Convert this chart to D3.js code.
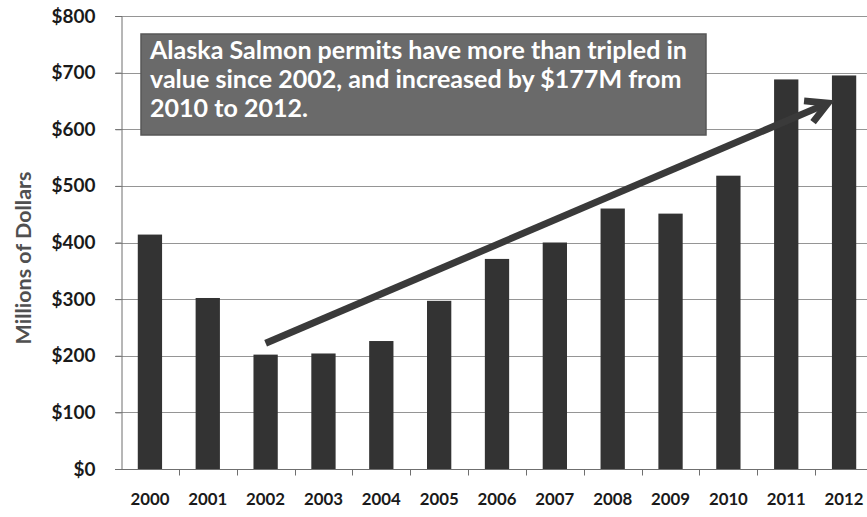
<!DOCTYPE html>
<html>
<head>
<meta charset="utf-8">
<script src="https://cdn.jsdelivr.net/npm/d3@7"></script>
<style>
  body { margin: 0; background: #fff; }
  svg { display: block; font-family: Lato, "Open Sans", sans-serif; }
</style>
</head>
<body>
<svg id="chart" width="867" height="517"></svg>
<script>
'use strict';

var years = ['2000', '2001', '2002', '2003', '2004', '2005', '2006',
             '2007', '2008', '2009', '2010', '2011', '2012'];
var permitValues = [414, 302, 202, 204, 226, 297, 371, 400, 460, 451, 518, 688, 695];
var yTicks = [0, 100, 200, 300, 400, 500, 600, 700, 800];
var noteLines = ['Alaska Salmon permits have more than tripled in',
                 'value since 2002, and increased by $177M from',
                 '2010 to 2012.'];
// trend arrow, in data terms: from 2002 up to just before the 2012 bar
var arrowFrom = {year: '2002', value: 222};
var arrowTo = {year: '2012', value: 646};

var margin = {top: 16, right: -6, bottom: 48, left: 121};
var width = 867, height = 517;

var svg = d3.select('#chart');

// scale a text selection so its first node is `target` px wide
function fitWidth(sel, size, target) {
  sel.attr('font-size', size);
  var w = sel.node().getComputedTextLength();
  sel.attr('font-size', size * target / w);
}

var x = d3.scaleBand()
  .domain(years)
  .range([margin.left, width - margin.right])
  .paddingInner(0.58)
  .paddingOuter(0.29);

var y = d3.scaleLinear()
  .domain([0, 800])
  .range([height - margin.bottom, margin.top]);

// gridlines
svg.append('g')
  .selectAll('line')
  .data(yTicks)
  .enter().append('line')
    .attr('x1', margin.left - 6)
    .attr('x2', width)
    .attr('y1', function(d) { return Math.round(y(d)) + 0.5; })
    .attr('y2', function(d) { return Math.round(y(d)) + 0.5; })
    .attr('stroke', '#959595')
    .attr('stroke-width', 1);

// y axis
var yAxis = svg.append('g')
  .attr('transform', 'translate(' + (margin.left + 0.5) + ',0)')
  .call(d3.axisLeft(y).tickValues(yTicks).tickSize(6).tickPadding(20)
    .tickFormat(function(d) { return '$' + d; }));
yAxis.select('.domain').attr('stroke', '#6f6f6f');
yAxis.selectAll('.tick line').attr('stroke', '#6f6f6f');
var yLabels = yAxis.selectAll('text')
  .attr('font-family', 'Lato, sans-serif')
  .attr('font-weight', 'bold')
  .attr('fill', '#1a1a1a');
fitWidth(d3.select(yLabels.nodes()[8]), 17, 44);
yLabels.attr('font-size', d3.select(yLabels.nodes()[8]).attr('font-size'));

// bars
svg.append('g')
  .selectAll('rect')
  .data(permitValues)
  .enter().append('rect')
    .attr('x', function(d, i) { return x(years[i]); })
    .attr('width', x.bandwidth())
    .attr('y', function(d) { return y(d); })
    .attr('height', function(d) { return y(0) - y(d); })
    .attr('fill', '#333333');

// x axis: baseline, ticks at band edges, labels
var base = Math.round(y(0)) + 0.5;
var xAxis = svg.append('g');
xAxis.append('line')
  .attr('x1', margin.left - 6).attr('x2', width)
  .attr('y1', base).attr('y2', base)
  .attr('stroke', '#6f6f6f');
var step = x.step();
xAxis.selectAll('.xtick')
  .data(years.slice(1))
  .enter().append('line')
    .attr('class', 'xtick')
    .attr('x1', function(d) { return Math.round(x(d) + x.bandwidth() / 2 - step / 2) + 0.5; })
    .attr('x2', function(d) { return Math.round(x(d) + x.bandwidth() / 2 - step / 2) + 0.5; })
    .attr('y1', base).attr('y2', base + 6)
    .attr('stroke', '#6f6f6f');
var xLabels = xAxis.selectAll('.xlabel')
  .data(years)
  .enter().append('text')
    .attr('class', 'xlabel')
    .attr('x', function(d) { return x(d) + x.bandwidth() / 2; })
    .attr('y', 505)
    .attr('text-anchor', 'middle')
    .attr('font-weight', 'bold')
    .attr('fill', '#1a1a1a')
    .text(function(d) { return d; });
fitWidth(xLabels, 16, 39);

// y axis title
var title = svg.append('text')
  .attr('transform', 'translate(31,258) rotate(-90)')
  .attr('text-anchor', 'middle')
  .attr('font-weight', 'bold')
  .attr('fill', '#505050')
  .text('Millions of Dollars');
fitWidth(title, 19, 173);

// trend arrow
var ax1 = x(arrowFrom.year) + x.bandwidth() / 2, ay1 = y(arrowFrom.value);
var ax2 = x(arrowTo.year) - 4, ay2 = y(arrowTo.value);
var ang = Math.atan2(ay2 - ay1, ax2 - ax1);
var head = 24, spread = 0.5;
svg.append('line')
  .attr('x1', ax1).attr('y1', ay1)
  .attr('x2', ax2 - 3 * Math.cos(ang)).attr('y2', ay2 - 3 * Math.sin(ang))
  .attr('stroke', '#3a3a3a')
  .attr('stroke-width', 7);
svg.append('path')
  .attr('d', 'M' + (ax2 - head * Math.cos(ang - spread)) + ',' + (ay2 - head * Math.sin(ang - spread)) +
             'L' + ax2 + ',' + ay2 +
             'L' + (ax2 - head * Math.cos(ang + spread)) + ',' + (ay2 - head * Math.sin(ang + spread)))
  .attr('fill', 'none')
  .attr('stroke', '#3a3a3a')
  .attr('stroke-width', 7)
  .attr('stroke-linejoin', 'miter')
  .attr('stroke-linecap', 'butt');

// annotation box
svg.append('rect')
  .attr('x', 141).attr('y', 34)
  .attr('width', 565).attr('height', 101)
  .attr('fill', '#6a6a6a')
  .attr('stroke', '#575757')
  .attr('stroke-width', 1.5);

var noteText = svg.append('g').selectAll('text')
  .data(noteLines)
  .enter().append('text')
    .attr('x', 150)
    .attr('y', function(d, i) { return 59 + i * 29; })
    .attr('font-weight', 'bold')
    .attr('fill', '#ffffff')
    .text(function(d) { return d; });
// fit first line to the width it has in the original
fitWidth(noteText, 20, 537);
</script>
</body>
</html>
